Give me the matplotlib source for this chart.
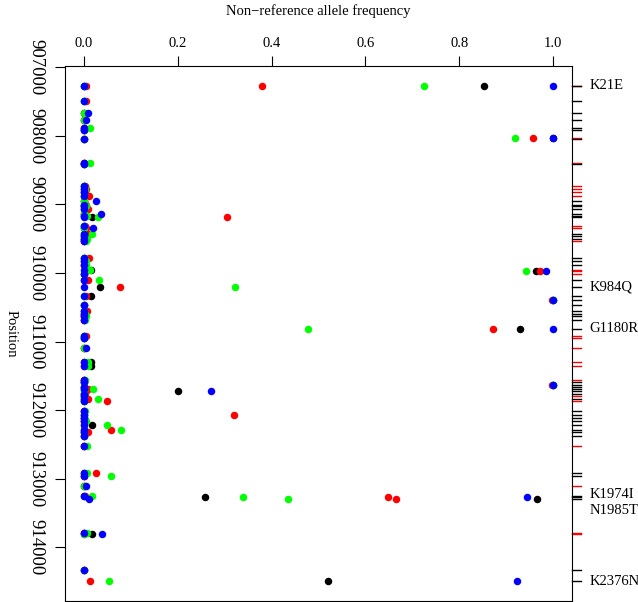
import matplotlib
matplotlib.use("Agg")
import matplotlib.pyplot as plt

# ==========================================
# DATA
# ==========================================
# variant positions (bp) and tick type on the right margin (0 = black, 1 = red)
positions = [907268, 907276, 907491, 907670, 907767, 907888, 907913, 908036, 908044,
             908400, 908416, 908739, 908777, 908826, 908874, 908957, 909005, 909030,
             909068, 909141, 909166, 909190, 909311, 909345, 909428, 909467, 909505,
             909540, 909777, 909831, 909879, 909952, 909977, 910010, 910098, 910200,
             910341, 910389, 910462, 910559, 910593, 910632, 910690, 910816, 910913,
             910947, 911092, 911302, 911360, 911554, 911593, 911627, 911660, 911689,
             911724, 911758, 911797, 911835, 911860, 912015, 912064, 912112, 912161,
             912209, 912282, 912321, 912380, 912525, 912913, 912952, 913098, 913255,
             913262, 913291, 913790, 913805, 914331, 914491]
site_type = [1, 0, 0, 0, 0, 0, 0, 1, 0,
             1, 0, 1, 1, 1, 1, 0, 0, 0,
             0, 0, 0, 0, 1, 1, 0, 0, 0,
             1, 0, 0, 0, 1, 1, 1, 0, 0,
             0, 0, 0, 0, 0, 0, 0, 0, 1,
             1, 1, 1, 1, 1, 0, 0, 0, 0,
             0, 0, 1, 0, 1, 0, 0, 0, 0,
             0, 0, 0, 0, 1, 0, 0, 1, 0,
             0, 0, 1, 1, 0, 0]

# non-reference allele frequency, one list per sample
freq_black = [0.852, 0, 0, 0, 0, 0, 0, 1.0, 0,
              0, 0, 0, 0, 0, 0, 0, 0, 0,
              0, 0, 0, 0.018, 0, 0, 0, 0, 0,
              0, 0, 0, 0, 0.016, 0.964, 0, 0, 0.035,
              0.016, 1.0, 0, 0, 0, 0, 0, 0.929, 0,
              0, 0, 0.016, 0.016, 0, 0, 1.0, 0, 0,
              0.201, 0, 0, 0, 0, 0, 0, 0, 0,
              0.018, 0, 0, 0, 0, 0, 0, 0, 0,
              0.259, 0.966, 0, 0.018, 0, 0.52]
freq_red = [0.379, 0.005, 0.004, 0.0, 0.0, 0, 0, 0.957, 0,
            0, 0, 0.003, 0.005, 0.003, 0.011, 0, 0.004, 0,
            0.008, 0, 0.004, 0.304, 0.003, 0.004, 0.01, 0.005, 0,
            0, 0.011, 0.003, 0, 0.01, 0.971, 0, 0.01, 0.077,
            0.004, 0.997, 0, 0.006, 0, 0, 0, 0.872, 0.004,
            0, 0, 0, 0, 0, 0, 0.997, 0, 0.01,
            0.004, 0, 0.003, 0.009, 0.049, 0, 0.319, 0, 0,
            0, 0.059, 0.01, 0, 0, 0.025, 0, 0, 0.003,
            0.647, 0.664, 0, 0, 0, 0.014]
freq_green = [0.724, 0, 0, 0, 0, 0.014, 0, 0.918, 0,
              0.014, 0, 0, 0.003, 0, 0, 0, 0, 0.004,
              0, 0, 0.006, 0.031, 0, 0, 0.018, 0, 0.006,
              0.004, 0, 0.004, 0.004, 0.013, 0.941, 0, 0.032, 0.323,
              0, 1.0, 0, 0, 0.003, 0.004, 0.003, 0.478, 0,
              0, 0, 0.01, 0.01, 0.003, 0, 1.0, 0, 0.019,
              0, 0, 0, 0.031, 0, 0.003, 0, 0, 0.004,
              0.049, 0.08, 0, 0, 0.006, 0.006, 0.058, 0, 0.017,
              0.34, 0.435, 0.006, 0, 0, 0.054]
freq_blue = [1.0, 0, 0, 0.008, 0.004, 0, 0, 1.0, 0,
             0, 0, 0, 0, 0, 0, 0.025, 0, 0,
             0, 0.036, 0, 0, 0, 0.02, 0, 0, 0,
             0, 0, 0, 0, 0, 0.984, 0, 0, 0,
             0, 1.0, 0, 0, 0, 0, 0, 1.0, 0,
             0, 0.004, 0, 0, 0, 0, 1.0, 0, 0,
             0.272, 0, 0, 0, 0, 0, 0, 0, 0,
             0, 0, 0, 0, 0, 0, 0, 0.004, 0,
             0.944, 0.011, 0, 0.038, 0, 0.923]

# amino-acid changes written beside the right margin
label_names = ["K21E", "K984Q", "G1180R", "K1974I", "N1985T", "K2376N"]
label_pos = [907272, 910210, 910810, 913235, 913465, 914491]

xtick_vals = [0.0, 0.2, 0.4, 0.6, 0.8, 1.0]
ytick_vals = [907000, 908000, 909000, 910000, 911000, 912000, 913000, 914000]

# ==========================================

plt.rcParams['font.family'] = ['Liberation Serif', 'DejaVu Serif']

fig = plt.figure(figsize=(6.38, 6.02), dpi=100)
ax = fig.add_axes([0.1019, 0.0017, 0.7947, 0.8887])

# points, drawn black -> red -> green -> blue like the original
for freqs, col in [(freq_black, 'black'), (freq_red, '#ff0000'),
                   (freq_green, '#00ff00'), (freq_blue, '#0000ff')]:
    ax.plot(freqs, positions, 'o', color=col, ms=5.4, mec='none', clip_on=False)

ax.set_xlim(-0.04, 1.04)
ax.set_ylim(914780, 906983)

# top x axis
ax.xaxis.tick_top()
ax.xaxis.set_label_position('top')
ax.set_xticks(xtick_vals)
ax.set_xticklabels([f"{v:.1f}" for v in xtick_vals])
ax.set_xlabel('Non\u2212reference allele frequency', fontsize=10.5, labelpad=16)
ax.tick_params(axis='x', direction='out', length=7, width=0.8, pad=4.5, labelsize=10.5)

# left y axis, labels read top to bottom
ax.set_yticks(ytick_vals)
ax.set_yticklabels([str(v) for v in ytick_vals], rotation=270, va='center')
ax.set_ylabel('Position', rotation=270, fontsize=10.5, labelpad=16, va='bottom')
ax.tick_params(axis='y', direction='out', length=7, width=0.8, pad=8, labelsize=13.5)

for sp in ax.spines.values():
    sp.set_linewidth(0.8)

# variant ticks on the right margin
tr = ax.get_yaxis_transform()
for p, t in zip(positions, site_type):
    ax.plot([1.0, 1.018], [p, p], color='#ff0000' if t else 'black',
            lw=1.0, transform=tr, clip_on=False)

for name, p in zip(label_names, label_pos):
    ax.text(1.034, p, name, transform=tr, ha='left', va='center', fontsize=10.5)

fig.savefig('out.png', dpi=100)
